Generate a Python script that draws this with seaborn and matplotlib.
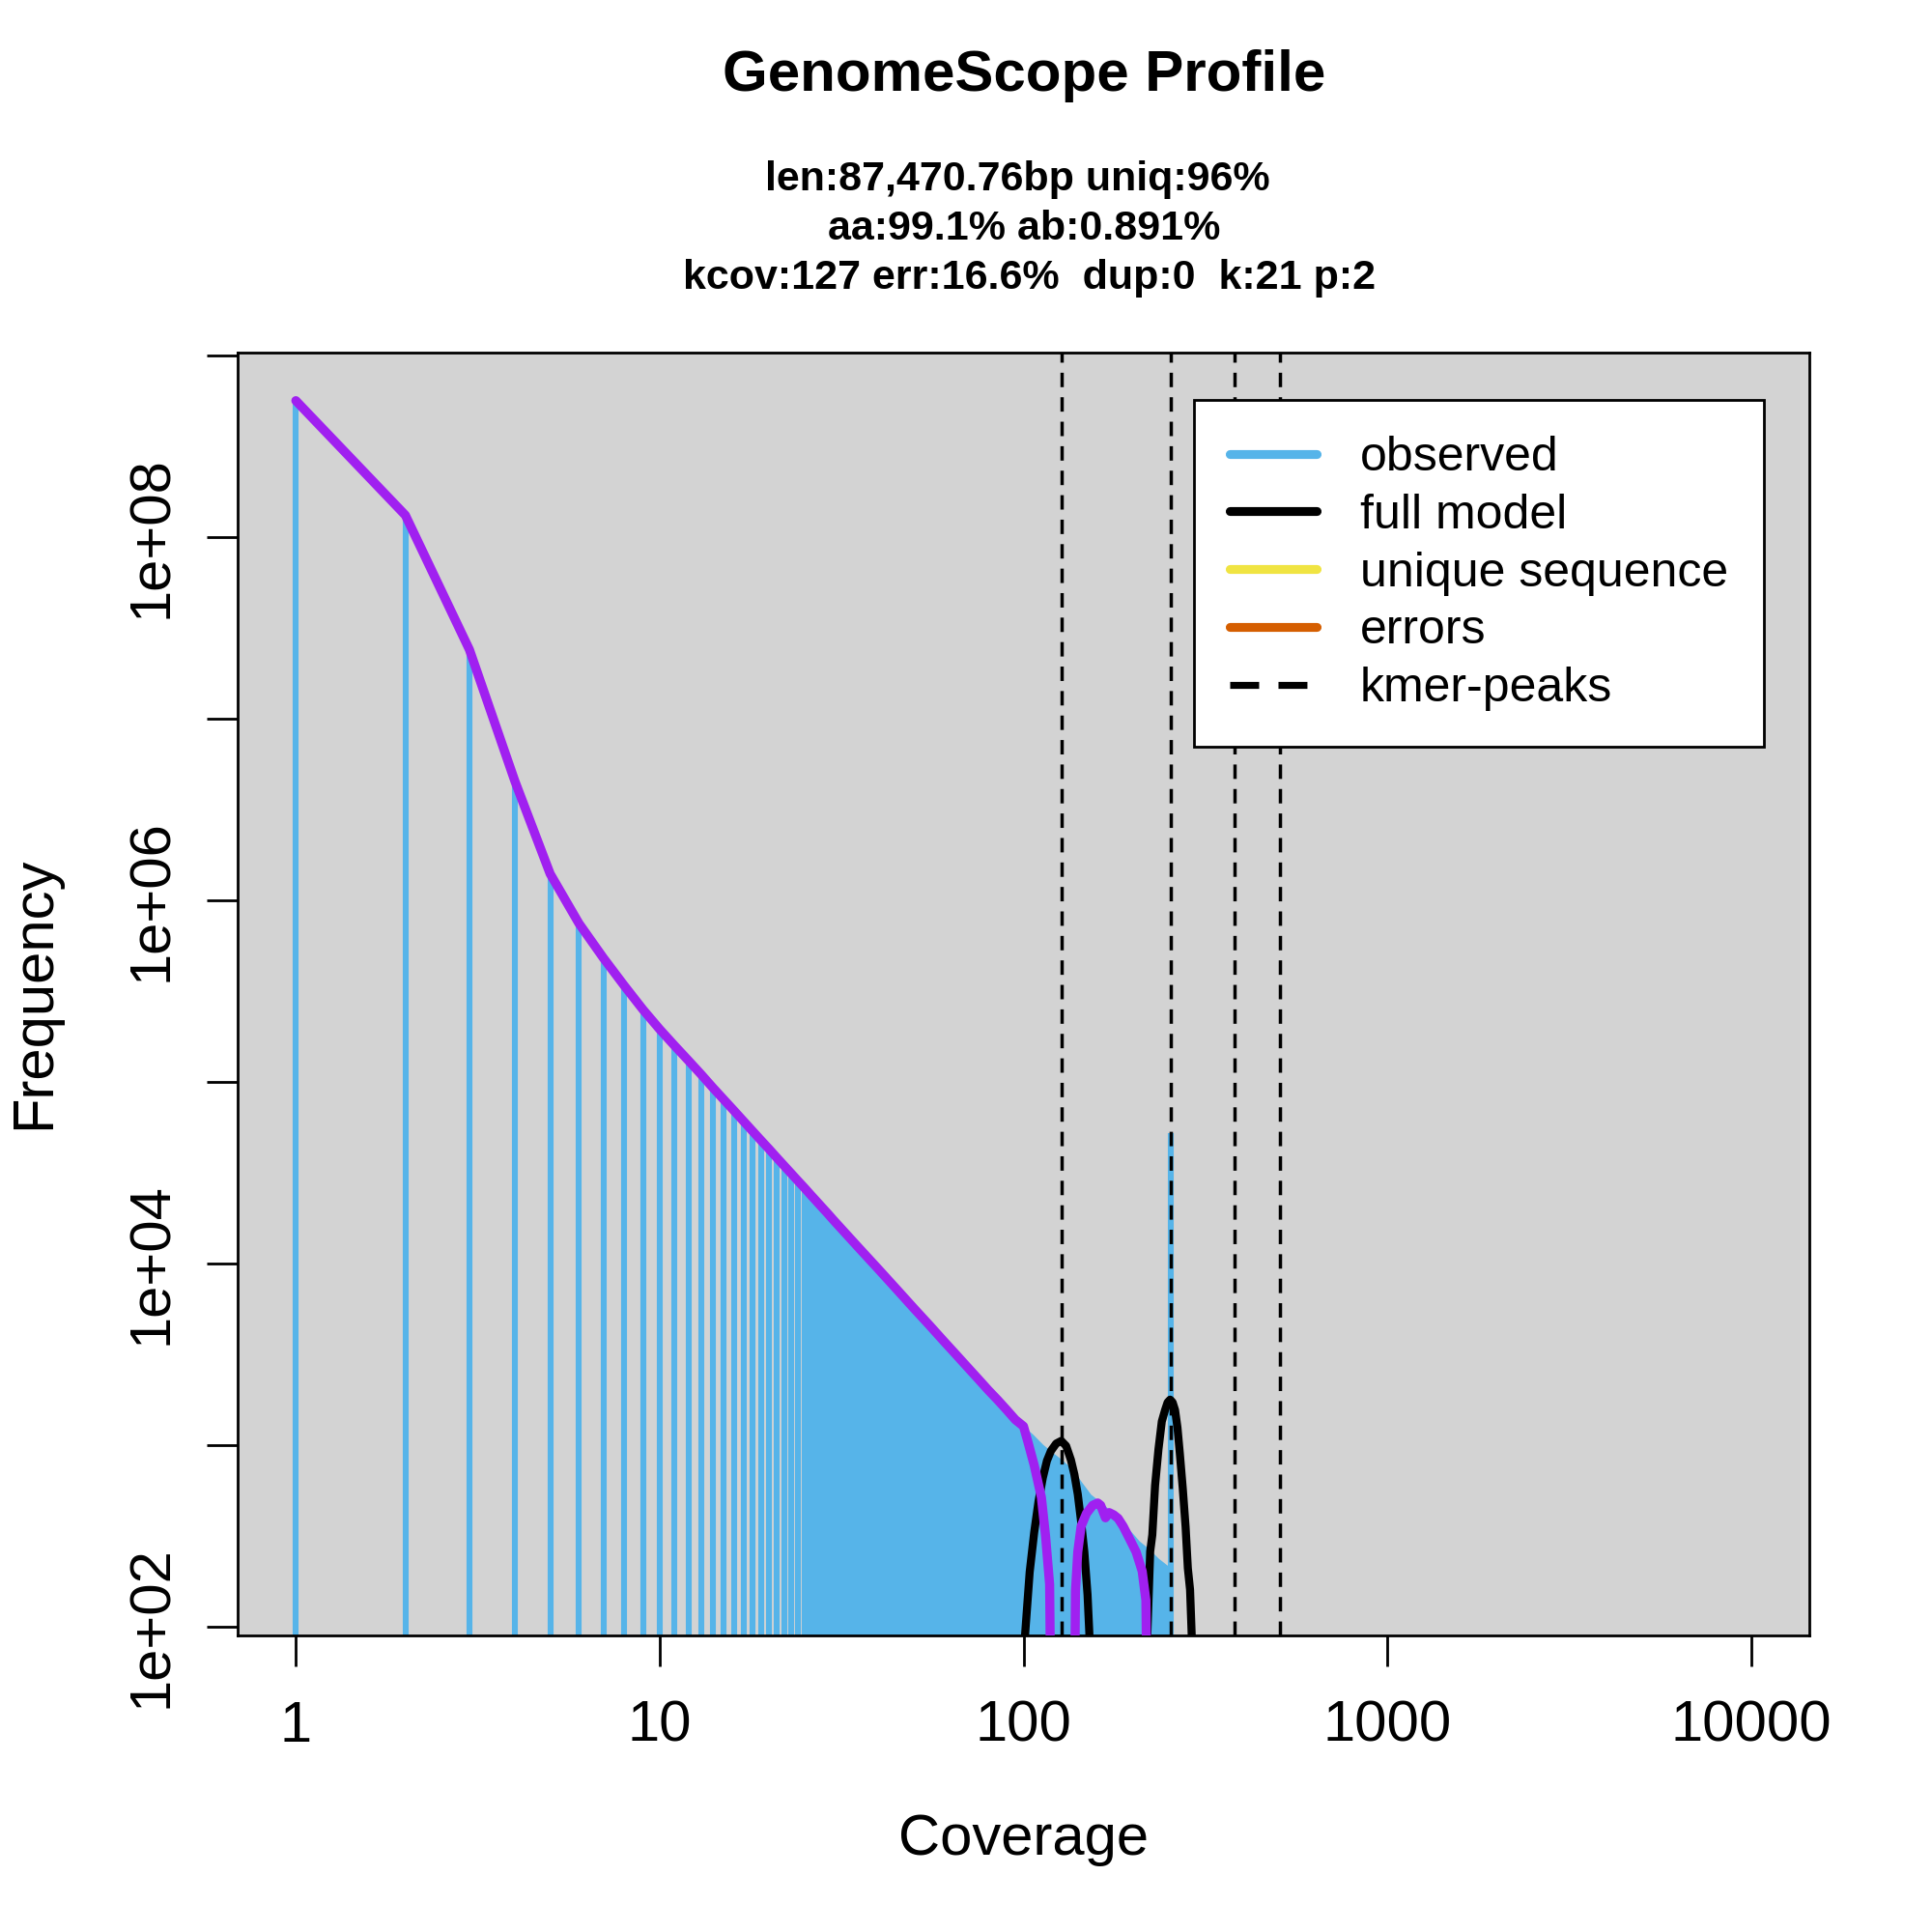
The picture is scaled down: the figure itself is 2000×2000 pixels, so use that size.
import numpy as np
import pandas as pd
import seaborn as sns
import matplotlib
matplotlib.use("Agg")
import matplotlib.pyplot as plt
from matplotlib.lines import Line2D
from matplotlib.ticker import NullLocator

# observed k-mer histogram, single lines (coverage 1..30)
cov_obs = list(range(1, 31))
freq_obs = [5.64e8, 1.32e8, 2.40e7, 4.53e6, 1.40e6, 7.46e5, 4.82e5, 3.38e5, 2.50e5, 1.95e5,
            1.58e5, 1.31e5, 1.10e5, 9.3e4, 8.0e4, 6.95e4, 6.08e4, 5.36e4, 4.76e4, 4.26e4,
            3.82e4, 3.45e4, 3.13e4, 2.85e4, 2.61e4, 2.39e4, 2.20e4, 2.03e4, 1.88e4, 1.74e4]

# dense part of the histogram (lines merge into a filled area)
cov_dense = [30, 35, 40, 45, 50, 55, 60, 65, 70, 75, 80, 85, 90, 95, 100,
             106, 113, 120, 128, 137, 144, 153, 163, 177, 192, 208, 221, 235, 245, 253]
freq_dense = [1.74e4, 1.24e4, 9.27e3, 7.15e3, 5.66e3, 4.60e3, 3.79e3, 3.18e3, 2.70e3, 2.32e3,
              2.01e3, 1.77e3, 1.56e3, 1.38e3, 1.27e3, 1.15e3, 1.01e3, 915, 826, 730,
              632, 537, 485, 421, 357, 297, 269, 238, 223, 212]
spike_cov = [254]
spike_freq = [5.2e4]

# purple curve: follows the histogram, then drops
purple_tail_cov = [103, 107, 112, 115, 118, 119]
purple_tail_freq = [1030, 776, 516, 316, 171, 30]
purple2_cov = [138, 139, 141, 144, 149, 155, 160, 163, 168, 172, 177, 182, 188, 196, 204, 212, 217, 219]
purple2_freq = [30, 158, 258, 357, 421, 466, 480, 466, 398, 425, 413, 395, 357, 303, 258, 202, 140, 30]

# full model humps
model1_cov = [100, 101, 104, 107, 110, 113, 116, 119, 123, 127, 131, 135, 138, 141, 144, 147, 150, 152, 154]
model1_freq = [30, 90, 200, 330, 490, 660, 820, 930, 1020, 1055, 990, 830, 690, 537, 380, 258, 150, 85, 30]
model2_cov = [218, 219, 223, 226, 230, 235, 240, 245, 249, 253, 257, 261, 265, 269, 274, 279, 283, 287, 290, 292]
model2_freq = [30, 90, 260, 320, 600, 950, 1350, 1560, 1720, 1780, 1720, 1560, 1250, 900, 580, 355, 210, 160, 90, 30]

kmer_peaks = [127, 254, 381, 508]

title = "GenomeScope Profile"
subtitle = ["len:87,470.76bp uniq:96%",
            "aa:99.1% ab:0.891%",
            "kcov:127 err:16.6%  dup:0  k:21 p:2"]

legend_labels = ["observed", "full model", "unique sequence", "errors", "kmer-peaks"]

col_obs = "#56B4E9"
col_unique = "#F0E442"
col_err = "#D55E00"
col_purple = "#A020F0"

sns.set_style("ticks")
plt.rcParams['font.family'] = ['Liberation Sans', 'DejaVu Sans']
plt.rcParams['axes.linewidth'] = 1.0
plt.rcParams['text.color'] = 'black'
plt.rcParams['axes.labelcolor'] = 'black'
plt.rcParams['xtick.color'] = 'black'
plt.rcParams['ytick.color'] = 'black'

fig = plt.figure(figsize=(10, 10), dpi=200)
ax = fig.add_axes([0.123, 0.1535, 0.8135, 0.664])
ax.set_facecolor("#D3D3D3")
ax.set_xscale("log")
ax.set_yscale("log")

# observed
ax.vlines(cov_obs, 1, freq_obs, color=col_obs, lw=2.2, zorder=2)
ax.fill_between(cov_dense, 1, freq_dense, color=col_obs, lw=0, zorder=2)
ax.vlines(spike_cov, 1, spike_freq, color=col_obs, lw=2.2, zorder=2)

# full model
for cov, freq in [(model1_cov, model1_freq), (model2_cov, model2_freq)]:
    df = pd.DataFrame({"cov": cov, "freq": freq})
    sns.lineplot(data=df, x="cov", y="freq", color="black", lw=3.0, sort=False,
                 estimator=None, ax=ax, zorder=3, solid_joinstyle="round",
                 solid_capstyle="round")

# purple curve
p1 = pd.DataFrame({
    "cov": cov_obs + cov_dense[1:15] + purple_tail_cov,
    "freq": freq_obs + freq_dense[1:15] + purple_tail_freq,
})
p2 = pd.DataFrame({"cov": purple2_cov, "freq": purple2_freq})
for df in (p1, p2):
    sns.lineplot(data=df, x="cov", y="freq", color=col_purple, lw=3.4, sort=False,
                 estimator=None, ax=ax, zorder=4, solid_joinstyle="round",
                 solid_capstyle="round")

for pk in kmer_peaks:
    ax.axvline(pk, color="black", lw=1.25, linestyle=(0, (4.3, 3.0)), zorder=5)

ax.set_xlim(10 ** -0.16, 10 ** 4.16)
ax.set_ylim(10 ** 1.952, 10 ** 9.016)

xt = [1, 10, 100, 1000, 10000]
ax.set_xticks(xt)
ax.set_xticklabels([str(v) for v in xt])
yt = [10.0 ** e for e in range(2, 10)]
ax.set_yticks(yt)
ax.set_yticklabels(["1e+%02d" % e if e % 2 == 0 else "" for e in range(2, 10)])
ax.xaxis.set_minor_locator(NullLocator())
ax.yaxis.set_minor_locator(NullLocator())
ax.tick_params(axis="both", direction="out", length=11.5, width=1.0, labelsize=21.5,
               colors="black")
ax.tick_params(axis="x", pad=12.5)
ax.tick_params(axis="y", pad=10.5)
for lab in ax.get_yticklabels():
    lab.set_rotation(90)
    lab.set_va("center")
for sp in ax.spines.values():
    sp.set_visible(True)
    sp.set_color("black")
    sp.set_linewidth(1.0)
ax.set_xlabel("")
ax.set_ylabel("")

fig.text(0.53, 1 - 1905 / 2000, "Coverage", ha="center", va="center", fontsize=21.5)
fig.text(0.018, 0.486, "Frequency", ha="center", va="center", rotation=90, fontsize=21.5)
fig.text(0.53, 1 - 79 / 2000, title, ha="center", va="center", fontsize=21.6,
         fontweight="bold")
sub_x = [1053, 1060, 1066]
for i, line in enumerate(subtitle):
    fig.text(sub_x[i] / 2000, 1 - (186 + 51 * i) / 2000, line, ha="center", va="center",
             fontsize=15.5, fontweight="bold")

handles = [
    Line2D([], [], color=col_obs, lw=3.3, solid_capstyle="round"),
    Line2D([], [], color="black", lw=3.3, solid_capstyle="round"),
    Line2D([], [], color=col_unique, lw=3.3, solid_capstyle="round"),
    Line2D([], [], color=col_err, lw=3.3, solid_capstyle="round"),
    Line2D([], [], color="black", lw=2.6, linestyle=(0, (4.15, 2.77))),
]
leg = ax.legend(handles, legend_labels, loc="upper right", bbox_to_anchor=(0.971, 0.963),
                borderaxespad=0, fontsize=18.0, handlelength=1.8, handletextpad=0.9,
                labelspacing=0.2755, borderpad=0.74, frameon=True, fancybox=False,
                framealpha=1, edgecolor="black", facecolor="white")
leg.get_frame().set_linewidth(1.0)
leg.set_zorder(6)

fig.savefig("out.png", dpi=200, facecolor="white")
